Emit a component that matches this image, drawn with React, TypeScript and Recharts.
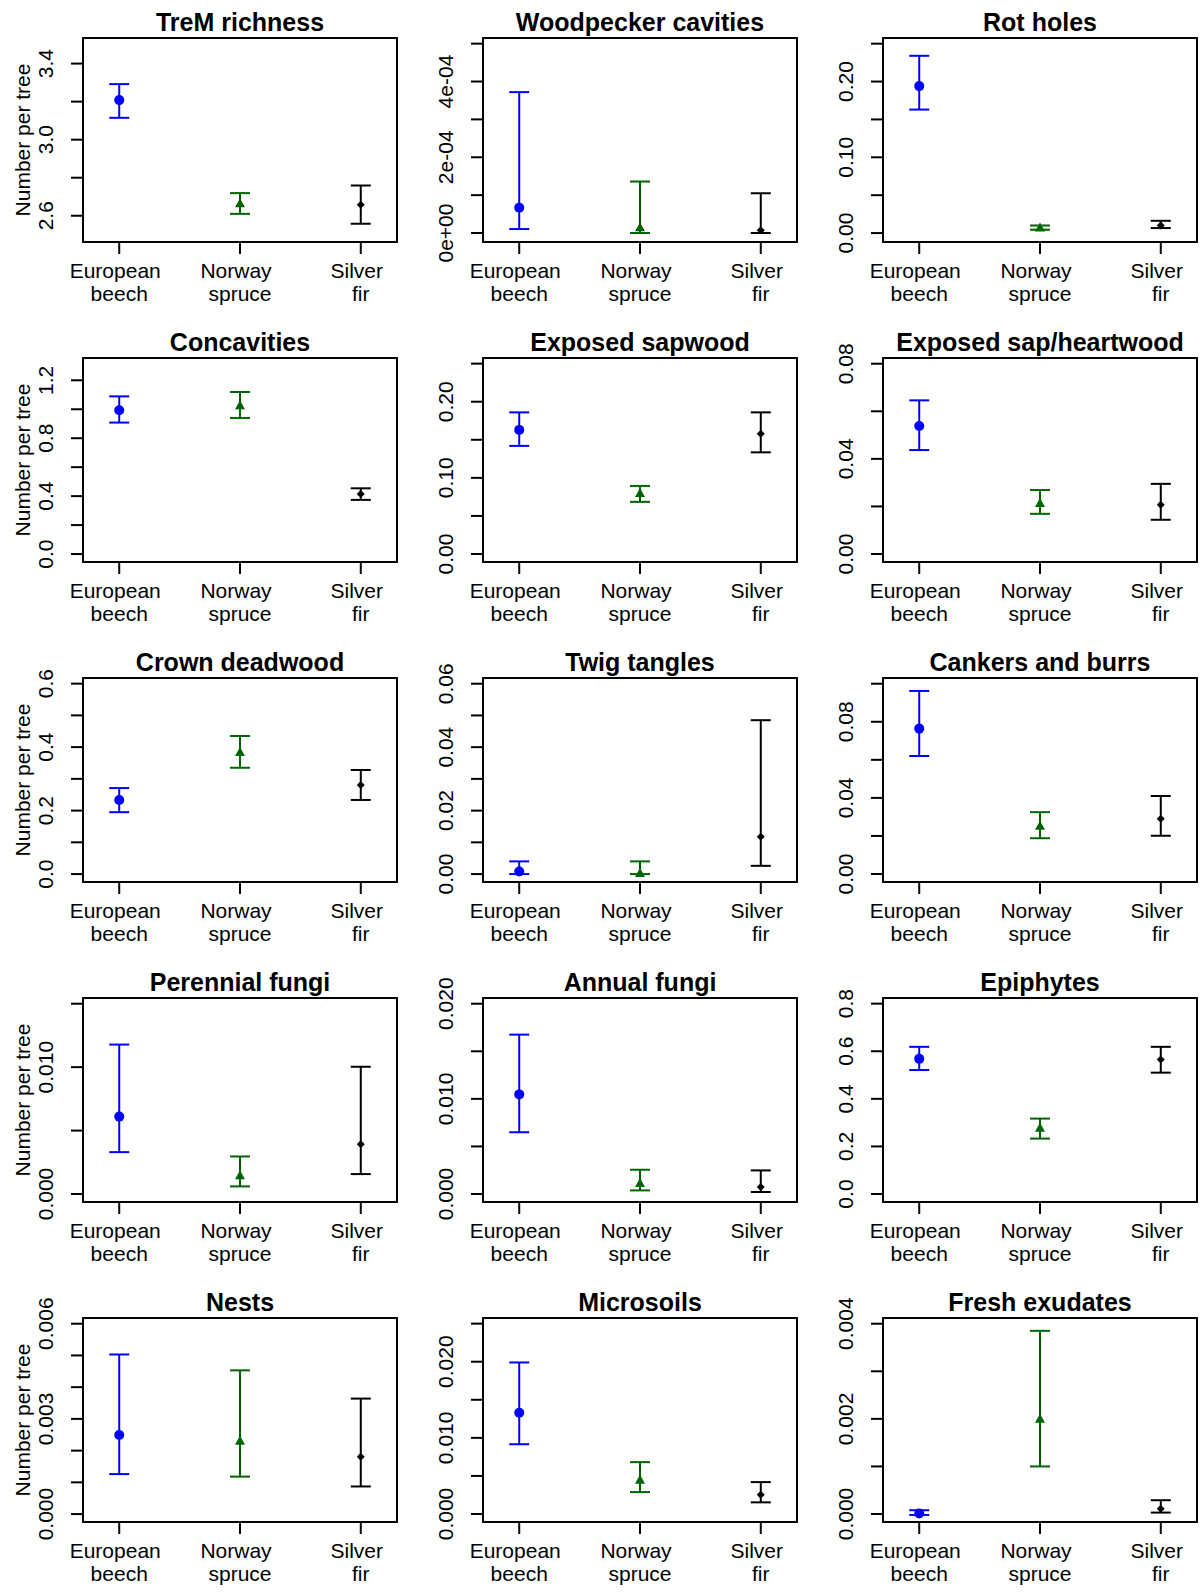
import React from 'react';
import { ScatterChart, Scatter, XAxis, YAxis, ErrorBar, ReferenceArea } from 'recharts';

const line1 = ['European', 'Norway', 'Silver'];
const line2 = ['beech', 'spruce', 'fir'];
const colors = ['#0000FF', '#006400', '#000000'];

// TreM richness
const tremMean = [3.208, 2.666, 2.658];
const tremLow = [3.115, 2.61, 2.558];
const tremHigh = [3.292, 2.719, 2.759];
const tremTicks = [2.6, 2.8, 3.0, 3.2, 3.4];
const tremLabels = ['2.6', '', '3.0', '', '3.4'];
const tremRange = [2.462, 3.5345];

// Woodpecker cavities
const woodMean = [6.7e-5, 1.5e-5, 0.7e-5];
const woodLow = [1.05e-5, 0, 0];
const woodHigh = [3.72e-4, 1.36e-4, 1.05e-4];
const woodTicks = [0, 1e-4, 2e-4, 3e-4, 4e-4, 5e-4];
const woodLabels = ['0e+00', '', '2e-04', '', '4e-04', ''];
const woodRange = [-0.237e-4, 5.149e-4];

// Rot holes
const rotMean = [0.194, 0.0075, 0.01];
const rotLow = [0.163, 0.0044, 0.0066];
const rotHigh = [0.234, 0.01, 0.0162];
const rotTicks = [0, 0.05, 0.1, 0.15, 0.2, 0.25];
const rotLabels = ['0.00', '', '0.10', '', '0.20', ''];
const rotRange = [-0.0118, 0.2575];

// Concavities
const concMean = [0.993, 1.027, 0.415];
const concLow = [0.908, 0.94, 0.374];
const concHigh = [1.089, 1.119, 0.454];
const concTicks = [0, 0.2, 0.4, 0.6, 0.8, 1.0, 1.2];
const concLabels = ['0.0', '', '0.4', '', '0.8', '', '1.2'];
const concRange = [-0.055, 1.354];

// Exposed sapwood
const sapMean = [0.163, 0.08, 0.158];
const sapLow = [0.142, 0.0685, 0.1335];
const sapHigh = [0.186, 0.0894, 0.186];
const sapTicks = [0, 0.05, 0.1, 0.15, 0.2, 0.25];
const sapLabels = ['0.00', '', '0.10', '', '0.20', ''];
const sapRange = [-0.0105, 0.2574];

// Exposed sap/heartwood
const heartMean = [0.0538, 0.0214, 0.0207];
const heartLow = [0.0437, 0.0169, 0.0144];
const heartHigh = [0.0646, 0.0269, 0.0295];
const heartTicks = [0, 0.02, 0.04, 0.06, 0.08];
const heartLabels = ['0.00', '', '0.04', '', '0.08'];
const heartRange = [-0.00335, 0.0824];

// Crown deadwood
const crownMean = [0.2335, 0.385, 0.281];
const crownLow = [0.195, 0.335, 0.2335];
const crownHigh = [0.271, 0.435, 0.328];
const crownTicks = [0, 0.1, 0.2, 0.3, 0.4, 0.5, 0.6];
const crownLabels = ['0.0', '', '0.2', '', '0.4', '', '0.6'];
const crownRange = [-0.025, 0.6178];

// Twig tangles
const twigMean = [0.0008, 0.0003, 0.0118];
const twigLow = [0, 0, 0.0026];
const twigHigh = [0.004, 0.004, 0.0485];
const twigTicks = [0, 0.01, 0.02, 0.03, 0.04, 0.05, 0.06];
const twigLabels = ['0.00', '', '0.02', '', '0.04', '', '0.06'];
const twigRange = [-0.0025, 0.0618];

// Cankers and burrs
const cankerMean = [0.0764, 0.0253, 0.029];
const cankerLow = [0.062, 0.0188, 0.0201];
const cankerHigh = [0.0962, 0.0325, 0.041];
const cankerTicks = [0, 0.02, 0.04, 0.06, 0.08, 0.1];
const cankerLabels = ['0.00', '', '0.04', '', '0.08', ''];
const cankerRange = [-0.0042, 0.103];

// Perennial fungi
const perenMean = [0.0061, 0.00147, 0.00393];
const perenLow = [0.0033, 0.0006, 0.00157];
const perenHigh = [0.01178, 0.00296, 0.01003];
const perenTicks = [0, 0.005, 0.01, 0.015];
const perenLabels = ['0.000', '', '0.010', ''];
const perenRange = [-0.00063, 0.01545];

// Annual fungi
const annualMean = [0.01047, 0.00115, 0.00073];
const annualLow = [0.00649, 0.00038, 0.00021];
const annualHigh = [0.01675, 0.00255, 0.00248];
const annualTicks = [0, 0.005, 0.01, 0.015, 0.02];
const annualLabels = ['0.000', '', '0.010', '', '0.020'];
const annualRange = [-0.00084, 0.0206];

// Epiphytes
const epiMean = [0.568, 0.279, 0.565];
const epiLow = [0.521, 0.233, 0.51];
const epiHigh = [0.6185, 0.317, 0.6185];
const epiTicks = [0, 0.2, 0.4, 0.6, 0.8];
const epiLabels = ['0.0', '0.2', '0.4', '0.6', '0.8'];
const epiRange = [-0.0335, 0.8237];

// Nests
const nestMean = [0.00249, 0.00231, 0.00181];
const nestLow = [0.00126, 0.00118, 0.00087];
const nestHigh = [0.00503, 0.00453, 0.00364];
const nestTicks = [0, 0.001, 0.002, 0.003, 0.004, 0.005, 0.006];
const nestLabels = ['0.000', '', '', '0.003', '', '', '0.006'];
const nestRange = [-0.00025, 0.00618];

// Microsoils
const microMean = [0.0133, 0.00449, 0.00253];
const microLow = [0.00916, 0.00288, 0.00153];
const microHigh = [0.0199, 0.00681, 0.00419];
const microTicks = [0, 0.005, 0.01, 0.015, 0.02, 0.025];
const microLabels = ['0.000', '', '0.010', '', '0.020', ''];
const microRange = [-0.00105, 0.02574];

// Fresh exudates
const freshMean = [0.00001, 0.002, 0.00011];
const freshLow = [-0.00002, 0.001, 0.00003];
const freshHigh = [0.00008, 0.00385, 0.00029];
const freshTicks = [0, 0.001, 0.002, 0.003, 0.004];
const freshLabels = ['0.000', '', '0.002', '', '0.004'];
const freshRange = [-0.000168, 0.00412];

const panels = [
  { title: 'TreM richness', mean: tremMean, low: tremLow, high: tremHigh, ticks: tremTicks, labels: tremLabels, range: tremRange },
  { title: 'Woodpecker cavities', mean: woodMean, low: woodLow, high: woodHigh, ticks: woodTicks, labels: woodLabels, range: woodRange },
  { title: 'Rot holes', mean: rotMean, low: rotLow, high: rotHigh, ticks: rotTicks, labels: rotLabels, range: rotRange },
  { title: 'Concavities', mean: concMean, low: concLow, high: concHigh, ticks: concTicks, labels: concLabels, range: concRange },
  { title: 'Exposed sapwood', mean: sapMean, low: sapLow, high: sapHigh, ticks: sapTicks, labels: sapLabels, range: sapRange },
  { title: 'Exposed sap/heartwood', mean: heartMean, low: heartLow, high: heartHigh, ticks: heartTicks, labels: heartLabels, range: heartRange },
  { title: 'Crown deadwood', mean: crownMean, low: crownLow, high: crownHigh, ticks: crownTicks, labels: crownLabels, range: crownRange },
  { title: 'Twig tangles', mean: twigMean, low: twigLow, high: twigHigh, ticks: twigTicks, labels: twigLabels, range: twigRange },
  { title: 'Cankers and burrs', mean: cankerMean, low: cankerLow, high: cankerHigh, ticks: cankerTicks, labels: cankerLabels, range: cankerRange },
  { title: 'Perennial fungi', mean: perenMean, low: perenLow, high: perenHigh, ticks: perenTicks, labels: perenLabels, range: perenRange },
  { title: 'Annual fungi', mean: annualMean, low: annualLow, high: annualHigh, ticks: annualTicks, labels: annualLabels, range: annualRange },
  { title: 'Epiphytes', mean: epiMean, low: epiLow, high: epiHigh, ticks: epiTicks, labels: epiLabels, range: epiRange },
  { title: 'Nests', mean: nestMean, low: nestLow, high: nestHigh, ticks: nestTicks, labels: nestLabels, range: nestRange },
  { title: 'Microsoils', mean: microMean, low: microLow, high: microHigh, ticks: microTicks, labels: microLabels, range: microRange },
  { title: 'Fresh exudates', mean: freshMean, low: freshLow, high: freshHigh, ticks: freshTicks, labels: freshLabels, range: freshRange },
];

const FONT = '"Liberation Sans", Arial, sans-serif';

const XTick = (props: any) => {
  const { x, payload } = props;
  const i = Math.round(payload.value) - 1;
  return (
    <text textAnchor="middle" fontSize={21} fontFamily={FONT} fill="#000">
      <tspan x={x - 4} y={278}>{line1[i]}</tspan>
      <tspan x={x} y={301}>{line2[i]}</tspan>
    </text>
  );
};

const makeYTick = (ticks: number[], labels: string[]) => (props: any) => {
  const { y, payload } = props;
  const idx = ticks.findIndex((t) => Math.abs(t - payload.value) < 1e-12);
  const label = idx >= 0 ? labels[idx] : '';
  if (!label) return <g />;
  return (
    <text x={53} y={y} transform={`rotate(-90 53 ${y})`} textAnchor="middle" fontSize={21} fontFamily={FONT} fill="#000">
      {label}
    </text>
  );
};

const shapes = [
  (p: any) => <circle cx={p.cx} cy={p.cy} r={5} fill={colors[0]} />,
  (p: any) => (
    <polygon points={`${p.cx},${p.cy - 5} ${p.cx - 5},${p.cy + 4} ${p.cx + 5},${p.cy + 4}`} fill={colors[1]} />
  ),
  (p: any) => (
    <polygon points={`${p.cx},${p.cy - 4} ${p.cx + 4},${p.cy} ${p.cx},${p.cy + 4} ${p.cx - 4},${p.cy}`} fill={colors[2]} />
  ),
];

const Panel = ({ p, index }: { p: any; index: number }) => {
  const col = index % 3;
  const row = Math.floor(index / 3);
  const series = [0, 1, 2].map((i) => [
    { x: i + 1, y: p.mean[i], err: [p.mean[i] - p.low[i], p.high[i] - p.mean[i]] },
  ]);
  return (
    <div style={{ position: 'absolute', left: col * 400, top: row * 320 }}>
      <ScatterChart width={400} height={320} margin={{ top: 38, right: 3, bottom: 0, left: 0 }}>
        <XAxis
          type="number"
          dataKey="x"
          domain={[0.7, 3.3]}
          ticks={[1, 2, 3]}
          interval={0}
          allowDataOverflow
          height={78}
          tickSize={12}
          axisLine={false}
          stroke="#000"
          tickLine={{ stroke: '#000', strokeWidth: 2 }}
          tick={<XTick />}
        />
        <YAxis
          type="number"
          dataKey="y"
          domain={p.range}
          ticks={p.ticks}
          interval={0}
          allowDataOverflow
          width={83}
          tickSize={12}
          axisLine={false}
          stroke="#000"
          tickLine={{ stroke: '#000', strokeWidth: 2 }}
          tick={makeYTick(p.ticks, p.labels)}
        />
        <ReferenceArea
          x1={0.7}
          x2={3.3}
          y1={p.range[0]}
          y2={p.range[1]}
          fill="none"
          fillOpacity={0}
          stroke="#000"
          strokeWidth={2}
          strokeOpacity={1}
        />
        {series.map((d, i) => (
          <Scatter key={i} data={d} shape={shapes[i]} isAnimationActive={false}>
            <ErrorBar dataKey="err" direction="y" width={10} stroke={colors[i]} strokeWidth={2} isAnimationActive={false} />
          </Scatter>
        ))}
        <text x={240} y={31} textAnchor="middle" fontSize={25} fontWeight="bold" fontFamily={FONT} fill="#000">
          {p.title}
        </text>
        {col === 0 && (
          <text x={30} y={140} transform="rotate(-90 30 140)" textAnchor="middle" fontSize={21} fontFamily={FONT} fill="#000">
            Number per tree
          </text>
        )}
      </ScatterChart>
    </div>
  );
};

export default function App() {
  return (
    <div style={{ position: 'absolute', left: 0, top: 0, width: 1200, height: 1595, background: '#fff' }}>
      {panels.map((p, i) => (
        <Panel key={p.title} p={p} index={i} />
      ))}
    </div>
  );
}
